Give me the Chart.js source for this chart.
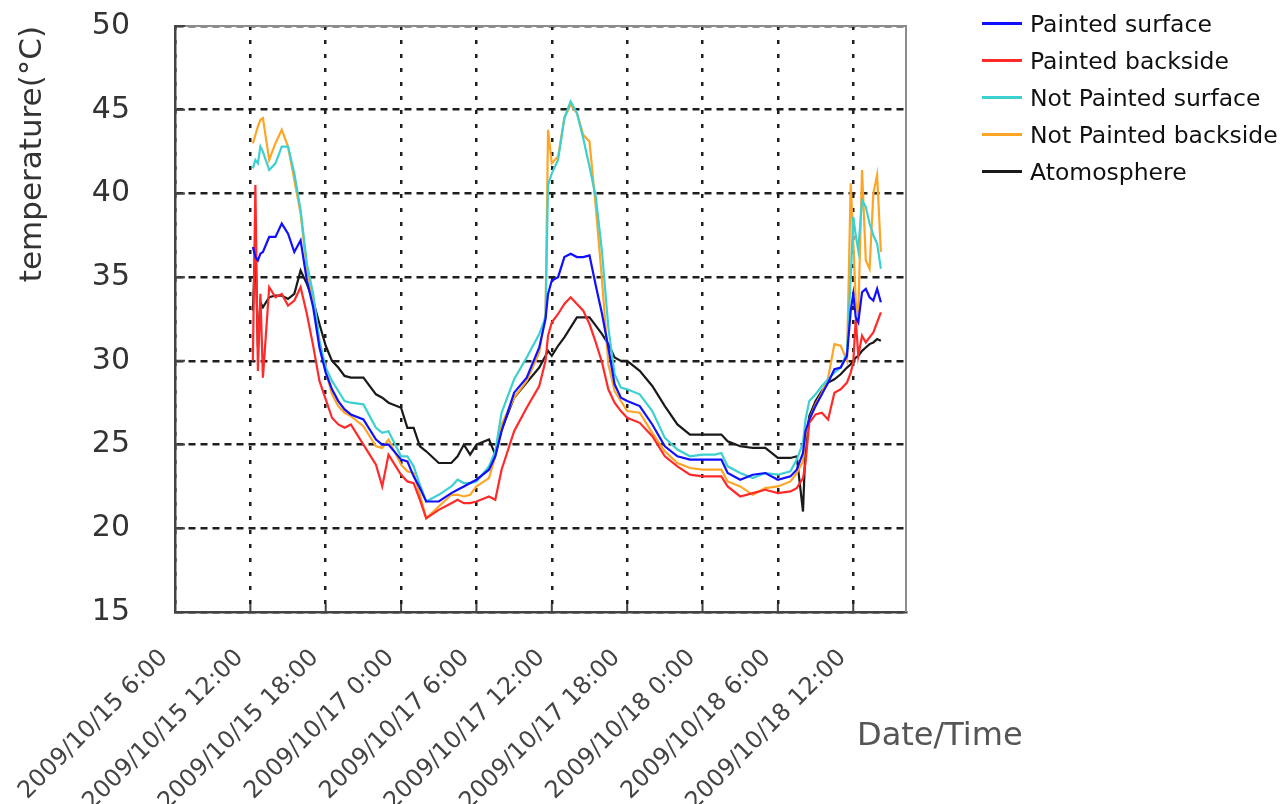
<!DOCTYPE html>
<html>
<head>
<meta charset="utf-8">
<script src="https://cdn.jsdelivr.net/npm/chart.js@4.4.1/dist/chart.umd.min.js"></script>
<style>
  html, body { margin: 0; padding: 0; background: #fff; }
  #wrap { position: relative; width: 1280px; height: 804px; overflow: hidden; }
  #c { position: absolute; left: 0; top: 0; }
  #legend { position: absolute; left: 982px; top: 5px; font-family: 'DejaVu Sans', sans-serif; font-size: 23.5px; color: #111; }
  #legend .item { height: 37px; display: flex; align-items: center; white-space: nowrap; }
  #legend .sw { width: 40px; height: 3px; margin-right: 8px; }
  #xtitle { position: absolute; left: 857px; top: 718px; font-family: 'DejaVu Sans', sans-serif; font-size: 32px; color: #555; line-height: 1; }
</style>
</head>
<body>
<div id="wrap">
  <canvas id="c" width="1280" height="804"></canvas>
  <div id="legend"></div>
  <div id="xtitle">Date/Time</div>
</div>
<script>
// ---- data ----
const xLabels = ['2009/10/15 6:00', '2009/10/15 12:00', '2009/10/15 18:00', '2009/10/17 0:00', '2009/10/17 6:00',
                 '2009/10/17 12:00', '2009/10/17 18:00', '2009/10/18 0:00', '2009/10/18 6:00', '2009/10/18 12:00'];
const yTicks = [15, 20, 25, 30, 35, 40, 45, 50];

// hours elapsed since the first label (2009/10/15 6:00)
const hours = [6.2, 6.4, 6.6, 6.8, 7.0, 7.5, 8.0, 8.5, 9.0, 9.5,
  10.0, 10.5, 11.0, 11.5, 12.0, 12.5, 13.0, 13.5, 14.0, 15.0,
  16.0, 16.5, 17.0, 18.0, 18.5, 19.0, 19.5, 20.0, 21.0, 22.0,
  22.5, 23.0, 23.5, 24.0, 25.0, 25.5, 26.0, 27.0, 28.0, 29.0,
  29.5, 29.7, 30.0, 30.5, 31.0, 31.5, 32.0, 32.5, 33.0, 33.5,
  34.0, 34.5, 35.0, 35.5, 36.0, 37.0, 38.0, 39.0, 40.0, 41.0,
  42.0, 43.0, 43.5, 44.0, 45.0, 46.0, 47.0, 48.0, 49.0, 49.5,
  50.0, 50.2, 50.5, 51.0, 51.5, 52.0, 52.5, 53.0, 53.5, 53.8,
  54.0, 54.2, 54.4, 54.7, 55.0, 55.3, 55.6, 55.9, 56.2];

const paintedSurface = [36.8, 36.2, 36.0, 36.4, 36.5, 37.4, 37.4, 38.2, 37.6, 36.5,
  37.2, 34.8, 33.2, 30.8, 29.3, 28.3, 27.6, 27.1, 26.8, 26.5,
  25.3, 25.0, 25.0, 24.1, 24.0, 23.1, 22.4, 21.6, 21.6, 22.1,
  22.3, 22.5, 22.7, 22.9, 23.5, 24.3, 25.8, 28.1, 29.0, 30.8,
  32.5, 34.0, 34.8, 35.0, 36.2, 36.4, 36.2, 36.2, 36.3, 34.5,
  32.8, 30.8, 28.6, 27.8, 27.6, 27.3, 26.2, 24.9, 24.3, 24.1,
  24.1, 24.1, 24.1, 23.3, 22.9, 23.2, 23.3, 22.9, 23.1, 23.5,
  24.5, 25.8, 26.5, 27.3, 28.0, 28.7, 29.5, 29.6, 30.3, 33.0,
  34.0, 32.6, 32.3, 34.1, 34.3, 33.8, 33.6, 34.3, 33.5];

const paintedBackside = [30.0, 40.5, 29.4, 34.0, 29.0, 34.4, 33.8, 34.0, 33.3, 33.6,
  34.4, 32.8, 30.9, 28.8, 27.7, 26.6, 26.2, 26.0, 26.2, 25.0,
  23.8, 22.5, 24.4, 23.2, 22.8, 22.7, 21.7, 20.6, 21.1, 21.5,
  21.7, 21.5, 21.5, 21.6, 21.9, 21.7, 23.5, 25.8, 27.2, 28.5,
  30.0, 31.5, 32.3, 32.8, 33.4, 33.8, 33.4, 33.0, 32.2, 31.1,
  29.9, 28.3, 27.5, 27.0, 26.6, 26.3, 25.5, 24.3, 23.7, 23.2,
  23.1, 23.1, 23.1, 22.5, 21.9, 22.1, 22.3, 22.1, 22.2, 22.4,
  23.0, 23.9, 26.3, 26.8, 26.9, 26.5, 28.1, 28.3, 28.7, 29.3,
  29.9, 32.5, 30.3, 31.5, 31.1, 31.4, 31.7, 32.3, 32.9];

const notPaintedSurface = [41.5, 42.0, 41.8, 42.8, 42.5, 41.4, 41.8, 42.8, 42.8, 41.2,
  39.0, 35.8, 34.0, 31.2, 29.6, 28.8, 28.2, 27.6, 27.5, 27.4,
  26.0, 25.7, 25.8, 24.3, 24.3, 23.7, 22.6, 21.6, 22.0, 22.5,
  22.9, 22.7, 22.7, 22.8, 23.7, 24.6, 26.9, 28.9, 30.2, 31.6,
  32.6, 40.5, 41.2, 42.0, 44.5, 45.5, 44.8, 43.3, 41.6, 39.8,
  36.5, 32.0, 29.2, 28.4, 28.3, 28.0, 27.0, 25.4, 24.7, 24.3,
  24.4, 24.4, 24.5, 23.7, 23.3, 23.0, 23.3, 23.2, 23.4, 24.1,
  25.1, 26.5, 27.6, 28.0, 28.5, 28.9, 29.3, 29.6, 30.5, 35.0,
  38.6, 37.5, 36.6, 39.6, 39.2, 38.2, 37.5, 37.0, 35.5];

const notPaintedBackside = [43.0, 43.5, 44.0, 44.4, 44.5, 42.0, 43.0, 43.8, 42.8, 40.8,
  38.8, 35.5, 33.6, 31.2, 29.4, 28.0, 27.3, 26.9, 26.7, 26.1,
  24.9, 24.8, 25.3, 23.8, 23.4, 23.3, 22.0, 20.6, 21.3, 22.0,
  22.0, 21.9, 22.0, 22.5, 23.0, 24.3, 26.2, 27.8, 28.8, 30.5,
  32.8, 43.8, 41.8, 42.2, 44.5, 45.3, 44.8, 43.5, 43.1, 39.2,
  34.8, 29.8, 28.2, 27.6, 27.0, 26.9, 25.7, 24.6, 23.9, 23.6,
  23.5, 23.5, 23.5, 22.8, 22.5, 22.0, 22.4, 22.5, 22.8, 23.3,
  24.0, 25.5, 26.5, 27.4, 28.1, 29.0, 31.0, 30.9, 30.0, 40.6,
  37.2, 33.5, 32.7, 41.4, 36.0, 35.5, 40.0, 41.1, 36.5];

const atmosphere = [33.0, 36.9, 30.8, 33.5, 33.2, 33.8, 33.9, 33.9, 33.7, 34.0,
  35.4, 34.6, 33.6, 32.2, 30.9, 30.0, 29.6, 29.1, 29.0, 29.0,
  28.0, 27.8, 27.5, 27.2, 26.0, 26.0, 24.9, 24.6, 23.9, 23.9,
  24.3, 25.0, 24.4, 25.0, 25.3, 24.4, 25.9, 27.8, 28.7, 29.6,
  30.3, 30.6, 30.3, 30.9, 31.4, 32.0, 32.6, 32.6, 32.6, 32.1,
  31.6, 31.0, 30.2, 30.0, 30.0, 29.4, 28.5, 27.3, 26.2, 25.6,
  25.6, 25.6, 25.6, 25.2, 24.9, 24.8, 24.8, 24.2, 24.2, 24.3,
  21.0, 25.0, 26.7, 27.6, 28.2, 28.7, 28.9, 29.2, 29.6, 29.8,
  30.0, 30.2, 30.3, 30.6, 30.8, 31.0, 31.1, 31.3, 31.2];

const seriesNames = ['Painted surface', 'Painted backside', 'Not Painted surface', 'Not Painted backside', 'Atomosphere'];
const seriesValues = [paintedSurface, paintedBackside, notPaintedSurface, notPaintedBackside, atmosphere];
const seriesColors = ['#1010ff', '#ff2a2a', '#3cd0d0', '#ffa526', '#1a1a1a'];

// ---- chart ----
Chart.defaults.font.family = "'DejaVu Sans', sans-serif";

const datasets = seriesValues.map((vals, k) => ({
  label: seriesNames[k],
  data: hours.map((h, i) => ({ x: h, y: vals[i] })),
  borderColor: seriesColors[k],
  backgroundColor: seriesColors[k],
  borderWidth: 2.2,
  pointRadius: 0,
  tension: 0,
  fill: false
}));

const framePlugin = {
  id: 'frame',
  afterDatasetsDraw(chart) {
    const { ctx, chartArea: a, scales } = chart;
    ctx.save();
    ctx.strokeStyle = '#8c8c8c';
    ctx.lineWidth = 2;
    ctx.beginPath();
    ctx.moveTo(a.left, a.top);
    ctx.lineTo(a.right, a.top);
    ctx.lineTo(a.right, a.bottom);
    ctx.stroke();
    // short inward tick marks
    ctx.strokeStyle = '#444';
    ctx.lineWidth = 2;
    ctx.beginPath();
    scales.y.ticks.forEach(t => {
      const py = scales.y.getPixelForValue(t.value);
      ctx.moveTo(a.left, py); ctx.lineTo(a.left + 10, py);
    });
    scales.x.ticks.forEach(t => {
      const px = scales.x.getPixelForValue(t.value);
      ctx.moveTo(px, a.bottom); ctx.lineTo(px, a.bottom - 8);
    });
    ctx.stroke();
    ctx.restore();
  }
};

const chart = new Chart(document.getElementById('c'), {
  type: 'line',
  data: { datasets },
  plugins: [framePlugin],
  options: {
    responsive: false,
    animation: false,
    devicePixelRatio: 1,
    layout: { padding: { left: 0, top: 26, right: 374, bottom: 0 } },
    plugins: { legend: { display: false }, tooltip: { enabled: false } },
    scales: {
      x: {
        type: 'linear',
        min: 0,
        max: 58.2,
        afterFit: s => { s.height = 192; },
        afterBuildTicks: s => { s.ticks = xLabels.map((_, i) => ({ value: i * 6 })); },
        ticks: {
          stepSize: 6,
          includeBounds: false,
          autoSkip: false,
          minRotation: 45,
          maxRotation: 45,
          padding: 21,
          color: '#444',
          font: { size: 24 },
          callback: v => (xLabels[Math.round(v / 6)] ?? '') + '  '
        },
        grid: { color: '#1e1e1e', lineWidth: 2.5, drawTicks: false },
        border: { display: true, color: '#444', width: 2.5, dash: [4, 10] }
      },
      y: {
        min: 15,
        max: 50,
        afterFit: s => { s.width = 175; s.paddingTop = 0; s.paddingBottom = 0; },
        afterBuildTicks: s => { s.ticks = yTicks.map(v => ({ value: v })); },
        ticks: { stepSize: 5, color: '#333', font: { size: 30 }, padding: 45 },
        grid: { color: '#1e1e1e', lineWidth: 2.5, drawTicks: false },
        border: { display: true, color: '#444', width: 2.5, dash: [7, 5] },
        title: {
          display: true,
          text: 'temperature(°C)',
          align: 'end',
          color: '#333',
          font: { size: 31 },
          padding: { top: 14, bottom: 0 }
        }
      }
    }
  }
});

// pin the plot area to the reference frame (top 26, right 906)
const target = { top: 26, right: 906 };
for (let k = 0; k < 4; k++) {
  const a = chart.chartArea;
  const p = chart.options.layout.padding;
  const dTop = a.top - target.top;
  const dRight = a.right - target.right;
  if (Math.abs(dTop) < 0.5 && Math.abs(dRight) < 0.5) break;
  p.top = Math.max(0, p.top - dTop);
  p.right += dRight;
  chart.update();
}

// legend
const leg = document.getElementById('legend');
seriesNames.forEach((name, k) => {
  const item = document.createElement('div');
  item.className = 'item';
  const sw = document.createElement('span');
  sw.className = 'sw';
  sw.style.background = seriesColors[k];
  const tx = document.createElement('span');
  tx.textContent = name;
  item.appendChild(sw);
  item.appendChild(tx);
  leg.appendChild(item);
});
</script>
</body>
</html>
